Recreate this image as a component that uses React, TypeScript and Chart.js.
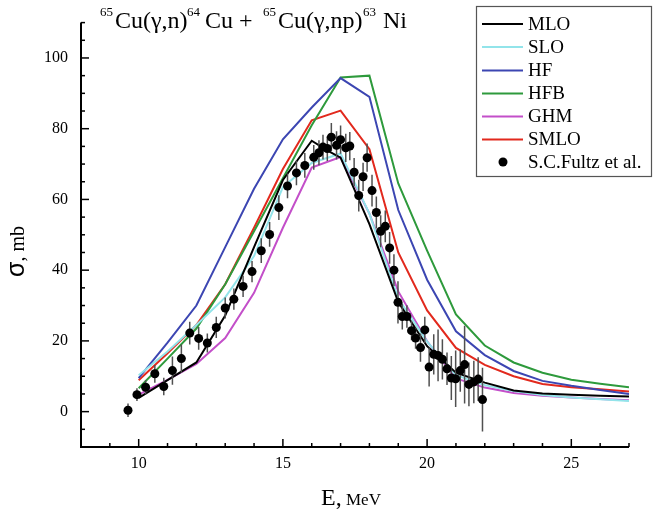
import React, { useEffect, useRef } from 'react';
import { Chart, registerables } from 'chart.js';

Chart.register(...registerables);

// ---------- data ----------
const seriesNames = ['MLO', 'SLO', 'HF', 'HFB', 'GHM', 'SMLO'];
const seriesColors = ['#000000', '#92e4ea', '#3c46b2', '#2e9a3c', '#c34fc9', '#e2291d'];

const energyGrid = [10, 11, 12, 13, 14, 15, 16, 17, 18, 19, 20, 21, 22, 23, 24, 25, 26, 27];
const mloEnergy = [10, 11, 12, 13, 14, 15, 16, 16.5, 17, 18, 19, 20, 21, 22, 23, 24, 25, 26, 27];

const mloValues = [3.9, 8.9, 13.9, 27.2, 46.5, 65.5, 76.6, 74.0, 71.8, 53, 31, 18.5, 11, 8.2, 6.0, 5.1, 4.8, 4.5, 4.3];
const sloValues = [10.3, 17, 24.5, 32.3, 44, 63.5, 70.3, 73, 56, 32, 19.8, 10.3, 7.5, 5.8, 4.7, 4.0, 3.5, 3.0];
const hfValues = [9.5, 19.5, 30, 46.5, 63, 77, 86, 94.3, 89, 57, 37.3, 22.7, 16, 11.5, 8.7, 7.3, 6.1, 5.0];
const hfbValues = [6.6, 15, 23.5, 36, 51, 66, 81, 94.5, 95, 64.5, 45.5, 27.5, 18.7, 13.9, 11, 9, 7.9, 6.9];
const ghmValues = [4.8, 9, 13.5, 20.8, 33.6, 52, 69, 72, 56, 34, 19.9, 9.4, 6.8, 5.3, 4.5, 4.0, 3.6, 3.2];
const smloValues = [8.9, 16.5, 24.5, 36, 52, 68.6, 82.4, 85.1, 74.2, 45, 28.6, 18, 13.2, 10, 7.8, 6.9, 6.3, 5.7];

const expLabel = 'S.C.Fultz et al.';
const expEnergy = [
  9.63, 9.94, 10.24, 10.56, 10.87, 11.17, 11.48, 11.77, 12.08, 12.38, 12.69, 13.0, 13.3, 13.62, 13.93,
  14.25, 14.54, 14.86, 15.16, 15.47, 15.76, 16.07, 16.25, 16.39, 16.54, 16.68, 16.86, 17.0, 17.18, 17.32,
  17.47, 17.63, 17.78, 17.92, 18.09, 18.24, 18.39, 18.55, 18.7, 18.85, 18.99, 19.14, 19.3, 19.46, 19.6,
  19.77, 19.92, 20.07, 20.23, 20.38, 20.53, 20.69, 20.84, 20.99, 21.15, 21.3, 21.45, 21.62, 21.77, 21.92,
];
const expSigma = [
  0.4, 4.8, 6.9, 10.7, 7.1, 11.6, 15.0, 22.2, 20.7, 19.4, 23.8, 29.3, 31.8, 35.4, 39.6,
  45.5, 50.1, 57.7, 63.8, 67.5, 69.6, 71.9, 73.2, 74.8, 74.4, 77.6, 75.3, 76.9, 74.6, 75.1,
  67.7, 61.1, 66.4, 71.8, 62.5, 56.3, 51.0, 52.4, 46.3, 40.0, 30.9, 26.9, 26.9, 22.9, 20.8,
  18.1, 23.1, 12.6, 16.2, 15.9, 14.8, 12.1, 9.5, 9.3, 11.6, 13.3, 7.7, 8.4, 9.2, 3.4,
];
const expError = [
  1.9, 1.8, 2.0, 2.5, 2.5, 4, 4, 3.2, 3.2, 2.7, 3, 3, 3, 3, 3,
  3.5, 3.5, 3.5, 3.5, 3.5, 3.5, 3.5, 3.5, 3.5, 3.5, 4, 4, 4, 4, 4,
  4, 4.5, 4, 4, 4.5, 4.5, 4.5, 4.5, 4.5, 4.5, 6, 3.7, 3.2, 2.7, 3,
  4, 3.7, 5.5, 5.7, 7.3, 5.7, 4.6, 6.2, 8, 6, 11, 6.2, 6, 6.2, 9,
];

const xTickValues = [10, 15, 20, 25];
const yTickValues = [0, 20, 40, 60, 80, 100];
const xRange = [8, 27];
const yRange = [-10, 110];

const SERIF = '"Liberation Serif", "Times New Roman", serif';

function toPoints(xs: number[], ys: number[]) {
  return xs.map((x, i) => ({ x, y: ys[i] }));
}

const errorBarPlugin = {
  id: 'errorBars',
  beforeDatasetDraw(chart: any, args: any) {
    if (args.index !== 0) return;
    const { ctx, chartArea } = chart;
    const xs = chart.scales.x;
    const ys = chart.scales.y;
    ctx.save();
    ctx.beginPath();
    ctx.rect(chartArea.left, chartArea.top, chartArea.right - chartArea.left, chartArea.bottom - chartArea.top);
    ctx.clip();
    ctx.strokeStyle = '#505050';
    ctx.lineWidth = 1.5;
    expEnergy.forEach((e, i) => {
      const px = xs.getPixelForValue(e);
      ctx.beginPath();
      ctx.moveTo(px, ys.getPixelForValue(expSigma[i] - expError[i]));
      ctx.lineTo(px, ys.getPixelForValue(expSigma[i] + expError[i]));
      ctx.stroke();
    });
    ctx.restore();
  },
};

const decorPlugin = {
  id: 'decor',
  afterDraw(chart: any) {
    const { ctx, chartArea } = chart;
    const xs = chart.scales.x;
    const ys = chart.scales.y;
    const { left, right, top, bottom } = chartArea;
    ctx.save();
    // axes lines
    ctx.strokeStyle = '#000';
    ctx.lineWidth = 2;
    ctx.beginPath();
    ctx.moveTo(left, top);
    ctx.lineTo(left, bottom);
    ctx.lineTo(right, bottom);
    ctx.stroke();
    // ticks (inward)
    ctx.lineWidth = 1.5;
    for (let v = xRange[0]; v <= xRange[1]; v += 1) {
      const px = xs.getPixelForValue(v);
      const len = v % 5 === 0 ? 8 : 4;
      ctx.beginPath();
      ctx.moveTo(px, bottom);
      ctx.lineTo(px, bottom - len);
      ctx.stroke();
    }
    for (let v = yRange[0]; v <= yRange[1]; v += 5) {
      const py = ys.getPixelForValue(v);
      const len = v % 20 === 0 && v >= 0 && v <= 100 ? 8 : 4;
      ctx.beginPath();
      ctx.moveTo(left, py);
      ctx.lineTo(left + len, py);
      ctx.stroke();
    }

    // title
    ctx.fillStyle = '#000';
    ctx.textBaseline = 'alphabetic';
    ctx.textAlign = 'left';
    const parts: [number, string, boolean][] = [
      [100, '65', true], [115, 'Cu(γ,n)', false], [187, '64', true], [205, 'Cu +', false],
      [263, '65', true], [278, 'Cu(γ,np)', false], [363, '63', true], [383, 'Ni', false],
    ];
    parts.forEach(([x, t, sup]) => {
      ctx.font = sup ? `13px ${SERIF}` : `24px ${SERIF}`;
      ctx.fillText(t, x, sup ? 16 : 28);
    });

    // x-axis title
    ctx.font = `24px ${SERIF}`;
    ctx.fillText('E,', 321, 505);
    ctx.font = `17px ${SERIF}`;
    ctx.fillText('MeV', 346, 505);

    // y-axis title (rotated)
    ctx.save();
    ctx.translate(24, 277);
    ctx.rotate(-Math.PI / 2);
    ctx.font = `25px "Liberation Sans", Arial, sans-serif`;
    ctx.fillText('σ', 0, 0);
    const sw = ctx.measureText('σ').width;
    ctx.font = `20px ${SERIF}`;
    ctx.fillText(', mb', sw, 0);
    ctx.restore();

    // legend
    const bx = 476, by = 6, bw = 176, bh = 171;
    ctx.fillStyle = '#fff';
    ctx.fillRect(bx, by, bw, bh);
    ctx.strokeStyle = '#555';
    ctx.lineWidth = 1.2;
    ctx.strokeRect(bx + 0.5, by + 0.5, bw - 1, bh - 1);
    const rowY = [24, 47, 70.5, 93.5, 116.5, 139.5, 162];
    ctx.font = `19px ${SERIF}`;
    ctx.textBaseline = 'middle';
    seriesNames.forEach((n, i) => {
      ctx.strokeStyle = seriesColors[i];
      ctx.lineWidth = 2;
      ctx.beginPath();
      ctx.moveTo(482, rowY[i]);
      ctx.lineTo(523, rowY[i]);
      ctx.stroke();
      ctx.fillStyle = '#000';
      ctx.fillText(n, 528, rowY[i] + 1);
    });
    ctx.fillStyle = '#000';
    ctx.beginPath();
    ctx.arc(503, rowY[6], 4.5, 0, Math.PI * 2);
    ctx.fill();
    ctx.fillText(expLabel, 528, rowY[6] + 1);
    ctx.restore();
  },
};

export default function App() {
  const ref = useRef<HTMLCanvasElement | null>(null);
  useEffect(() => {
    if (!ref.current) return;
    const lineSeries = [mloValues, sloValues, hfValues, hfbValues, ghmValues, smloValues];
    const datasets: any[] = [
      {
        type: 'scatter',
        label: expLabel,
        data: toPoints(expEnergy, expSigma),
        pointRadius: 4.5,
        pointBackgroundColor: '#000',
        pointBorderColor: '#000',
        pointBorderWidth: 0,
        showLine: false,
      },
      ...seriesNames.map((n, i) => ({
        type: 'line',
        label: n,
        data: toPoints(i === 0 ? mloEnergy : energyGrid, lineSeries[i]),
        borderColor: seriesColors[i],
        backgroundColor: seriesColors[i],
        borderWidth: 2,
        pointRadius: 0,
        tension: 0,
        fill: false,
      })),
    ];
    const chart = new Chart(ref.current, {
      type: 'scatter',
      data: { datasets },
      options: {
        animation: false,
        responsive: false,
        events: [],
        layout: { padding: { top: 10, right: 24, left: 0, bottom: 0 } },
        plugins: { legend: { display: false }, tooltip: { enabled: false }, title: { display: false } },
        scales: {
          x: {
            type: 'linear',
            min: xRange[0],
            max: xRange[1],
            grid: { display: false, drawTicks: false },
            border: { display: false },
            afterBuildTicks: (scale: any) => {
              scale.ticks = xTickValues.map((v) => ({ value: v }));
            },
            afterFit: (scale: any) => {
              scale.height = 68;
            },
            ticks: {
              color: '#000',
              padding: 7,
              font: { family: SERIF, size: 16 },
              callback: (v: any) => String(v),
            },
          },
          y: {
            type: 'linear',
            min: yRange[0],
            max: yRange[1],
            grid: { display: false, drawTicks: false },
            border: { display: false },
            afterBuildTicks: (scale: any) => {
              scale.ticks = yTickValues.map((v) => ({ value: v }));
            },
            afterFit: (scale: any) => {
              scale.width = 81;
            },
            ticks: {
              color: '#000',
              padding: 13,
              font: { family: SERIF, size: 16 },
              callback: (v: any) => String(v),
            },
          },
        },
      },
      plugins: [errorBarPlugin, decorPlugin],
    } as any);
    return () => chart.destroy();
  }, []);
  return (
    <div style={{ position: 'fixed', left: 0, top: 0, width: 653, height: 515, background: '#fff' }}>
      <canvas ref={ref} width={653} height={515} style={{ display: 'block' }} />
    </div>
  );
}
